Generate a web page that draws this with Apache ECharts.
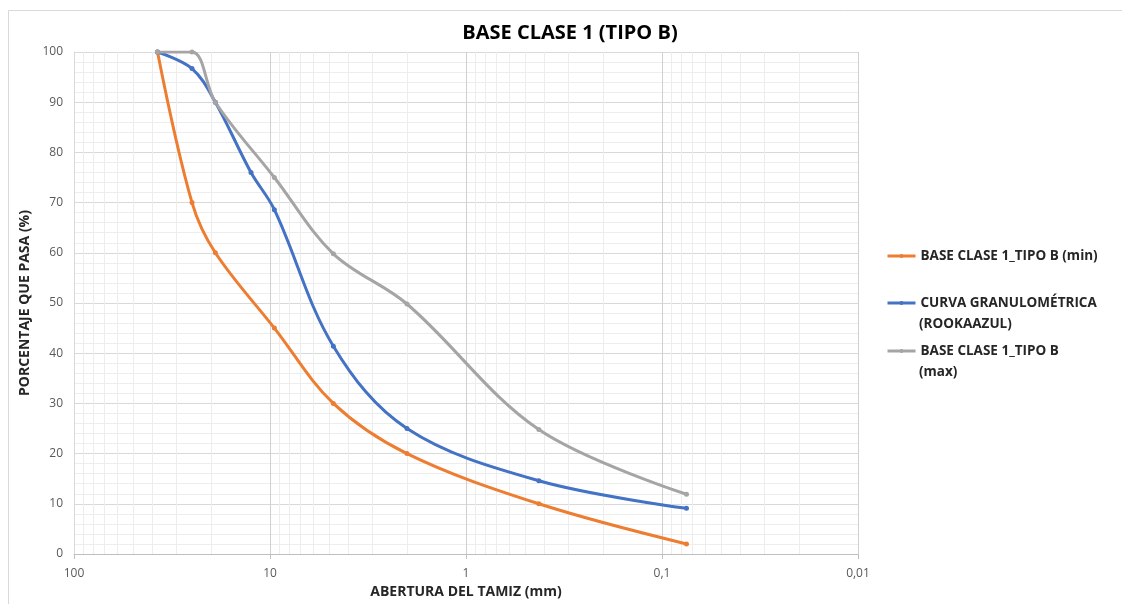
<!DOCTYPE html>
<html>
<head>
<meta charset="utf-8">
<script src="https://cdn.jsdelivr.net/npm/echarts@6/dist/echarts.min.js"></script>
<style>html,body{margin:0;padding:0;background:#fff}#c{width:1122px;height:604px}</style>
</head>
<body>
<div id="c"></div>
<script>
// ---- data ----
const titleText = 'BASE CLASE 1 (TIPO B)';
const xAxisName = 'ABERTURA DEL TAMIZ (mm)';
const yAxisName = 'PORCENTAJE QUE PASA (%)';

const minSizes = [37.5, 25, 19, 9.5, 4.75, 2, 0.425, 0.075];
const minValues = [100, 70, 60, 45, 30, 20, 10, 2];

const curveSizes = [37.5, 25, 19, 12.5, 9.5, 4.75, 2, 0.425, 0.075];
const curveValues = [100, 96.7, 90, 76, 68.6, 41.4, 25, 14.6, 9.1];

const maxSizes = [37.5, 25, 19, 9.5, 4.75, 2, 0.425, 0.075];
const maxValues = [100, 100, 90, 75, 59.8, 49.8, 24.8, 11.9];

const seriesNames = ['BASE CLASE 1_TIPO B (min)', 'CURVA GRANULOMÉTRICA', 'BASE CLASE 1_TIPO B'];
const seriesSecondLines = ['', '(ROOKAAZUL)', '(max)'];
const seriesColors = ['#ED7D31', '#4472C4', '#A5A5A5'];

// minor log grid lines: 2..9 in each decade
const minorXLines = [];
[0.01, 0.1, 1, 10].forEach(d => { for (let m = 2; m <= 9; m++) minorXLines.push(+(m * d).toPrecision(3)); });

const FONT = '"Open Sans", "Liberation Sans", sans-serif';

function pairs(xs, ys) { return xs.map((x, i) => [x, ys[i]]); }

const chart = echarts.init(document.getElementById('c'), null, {renderer: 'canvas'});

const lineSeries = [
  {name: seriesNames[0], data: pairs(minSizes, minValues), color: seriesColors[0]},
  {name: seriesNames[1], data: pairs(curveSizes, curveValues), color: seriesColors[1]},
  {name: seriesNames[2], data: pairs(maxSizes, maxValues), color: seriesColors[2]}
].map(s => ({
  name: s.name, type: 'line', data: s.data, smooth: 0.35,
  symbol: 'circle', symbolSize: 5, showSymbol: true,
  lineStyle: {color: s.color, width: 3}, itemStyle: {color: s.color},
  z: 3, animation: false
}));

const legendCenters = [256, 303, 351];
const legends = seriesNames.map((n, i) => ({
  data: [n], left: 881, top: legendCenters[i] - 15, orient: 'vertical',
  itemWidth: 28, itemHeight: 5, itemGap: 0,
  lineStyle: {width: 3},
  textStyle: {fontFamily: FONT, fontWeight: 'bold', fontSize: 13.5, color: '#262626', lineHeight: 20},
  selectedMode: false
}));

const graphics = [
  {type: 'rect', shape: {x: 8.5, y: 10.5, width: 1300, height: 800}, style: {fill: 'none', stroke: '#D9D9D9', lineWidth: 1}, silent: true, z: -1},
  {type: 'text', x: 570, y: 33, style: {text: titleText, fontFamily: FONT, fontWeight: 'bold', fontSize: 20, fill: '#000', textAlign: 'center', textVerticalAlign: 'middle'}}
];
seriesSecondLines.forEach((t, i) => {
  if (t) graphics.push({type: 'text', x: 919, y: legendCenters[i] + 21, style: {text: t, fontFamily: FONT, fontWeight: 'bold', fontSize: 13.5, fill: '#262626', textAlign: 'left', textVerticalAlign: 'middle'}});
});

chart.setOption({
  animation: false,
  backgroundColor: '#fff',
  grid: {left: 74, right: 264, top: 52, bottom: 50, outerBoundsMode: 'none', containLabel: false},
  legend: legends,
  graphic: graphics,
  xAxis: {
    type: 'log', logBase: 10, min: 0.01, max: 100, inverse: true,
    name: xAxisName, nameLocation: 'middle', nameGap: 31,
    nameTextStyle: {fontFamily: FONT, fontWeight: 'bold', fontSize: 14, color: '#262626'},
    axisLine: {show: true, lineStyle: {color: '#BFBFBF'}},
    axisTick: {show: true, length: 5, lineStyle: {color: '#BFBFBF'}},
    axisLabel: {fontFamily: FONT, fontSize: 12, color: '#595959', margin: 14,
      formatter: v => String(+v.toPrecision(3)).replace('.', ',')},
    splitLine: {show: true, lineStyle: {color: '#D0D0D0'}}
  },
  yAxis: {
    type: 'value', min: 0, max: 100, interval: 10,
    name: yAxisName, nameLocation: 'middle', nameGap: 41,
    nameTextStyle: {fontFamily: FONT, fontWeight: 'bold', fontSize: 14, color: '#262626'},
    axisLine: {show: true, lineStyle: {color: '#D9D9D9'}},
    axisTick: {show: false},
    axisLabel: {fontFamily: FONT, fontSize: 12, color: '#595959', margin: 11},
    splitLine: {show: true, lineStyle: {color: '#D9D9D9'}},
    minorTick: {show: false, splitNumber: 5},
    minorSplitLine: {show: true, lineStyle: {color: '#EDEDED'}}
  },
  series: [
    {
      name: 'minorgrid', type: 'line', data: [], z: 1, silent: true,
      markLine: {
        z: 1, silent: true, symbol: 'none', label: {show: false}, animation: false,
        lineStyle: {color: '#EDEDED', type: 'solid', width: 1},
        data: minorXLines.map(v => ({xAxis: v}))
      }
    }
  ].concat(lineSeries)
});
</script>
</body>
</html>
